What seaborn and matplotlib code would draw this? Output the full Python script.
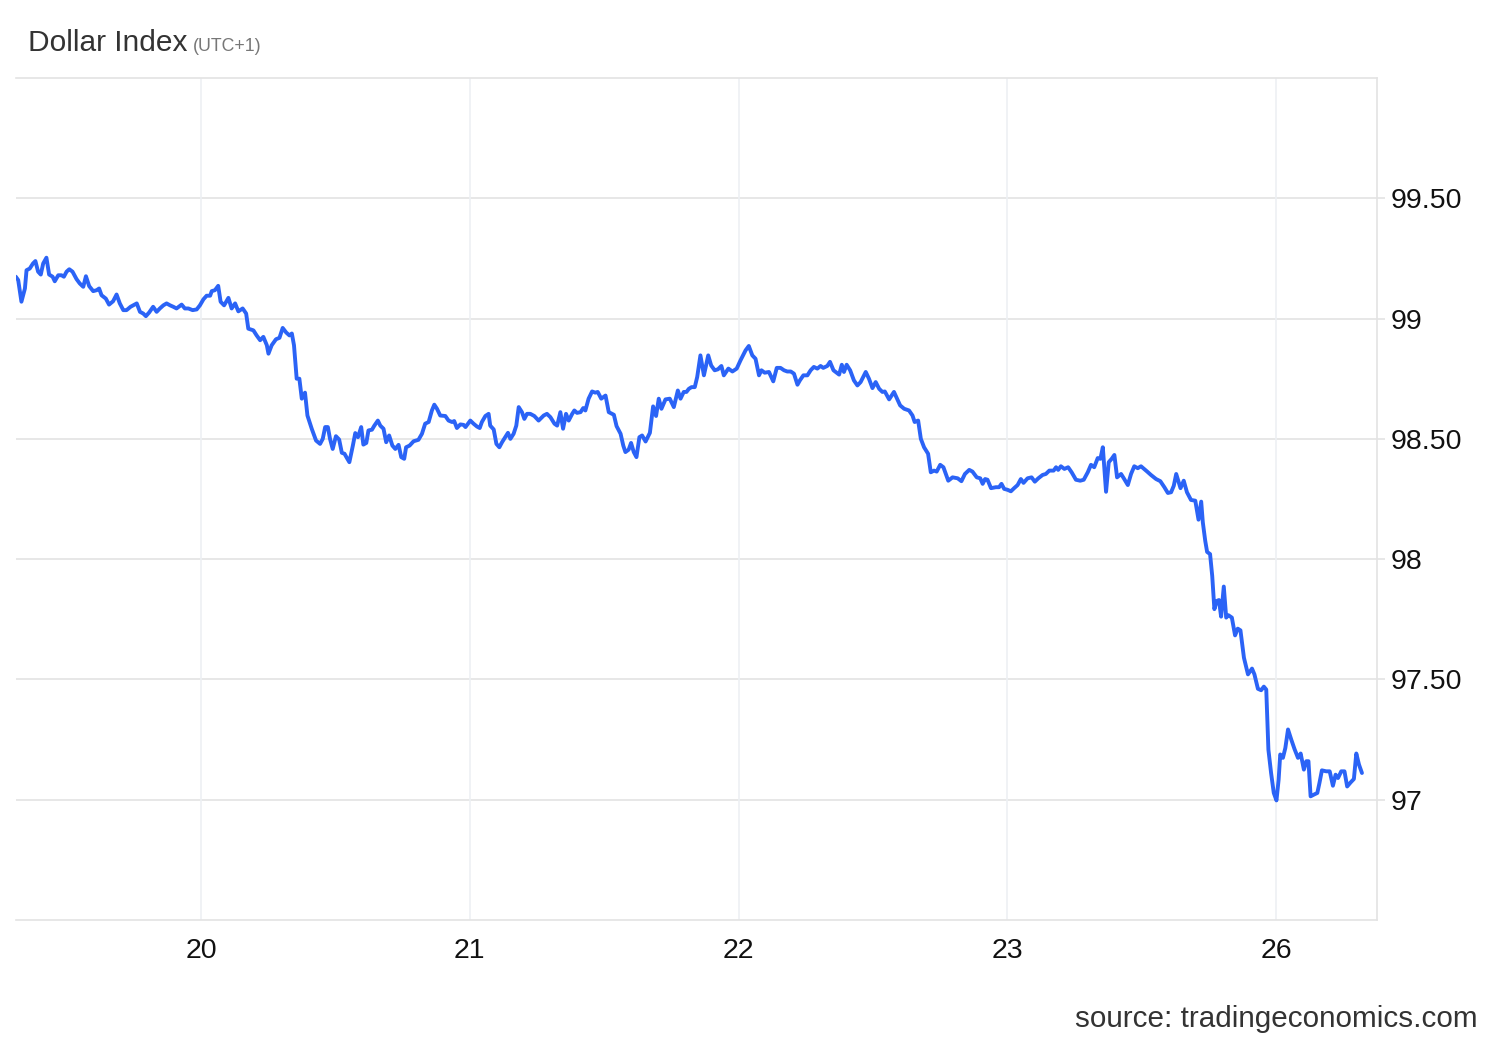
import numpy as np
import pandas as pd
import seaborn as sns
import matplotlib.pyplot as plt

# calendar day (fraction of day, UTC+1) and index level
day = [
    19.311, 19.320, 19.332, 19.345, 19.351, 19.363, 19.375, 19.384, 19.394, 19.404,
    19.413, 19.425, 19.435, 19.448, 19.456, 19.469, 19.481, 19.490, 19.500, 19.510,
    19.522, 19.537, 19.549, 19.562, 19.572, 19.584, 19.599, 19.612, 19.621, 19.630,
    19.646, 19.658, 19.673, 19.686, 19.698, 19.711, 19.723, 19.738, 19.748, 19.761,
    19.773, 19.785, 19.795, 19.807, 19.822, 19.835, 19.847, 19.860, 19.872, 19.885,
    19.897, 19.909, 19.928, 19.940, 19.953, 19.969, 19.984, 19.996, 20.009, 20.021,
    20.034, 20.040, 20.052, 20.064, 20.073, 20.086, 20.102, 20.114, 20.127, 20.139,
    20.155, 20.168, 20.176, 20.195, 20.207, 20.220, 20.232, 20.245, 20.251, 20.263,
    20.279, 20.292, 20.304, 20.317, 20.329, 20.338, 20.346, 20.356, 20.366, 20.375,
    20.387, 20.396, 20.412, 20.428, 20.443, 20.453, 20.462, 20.472, 20.480, 20.490,
    20.502, 20.514, 20.524, 20.534, 20.543, 20.552, 20.565, 20.574, 20.584, 20.596,
    20.604, 20.615, 20.623, 20.636, 20.645, 20.658, 20.667, 20.679, 20.689, 20.700,
    20.712, 20.723, 20.735, 20.745, 20.756, 20.763, 20.776, 20.791, 20.809, 20.822,
    20.834, 20.847, 20.859, 20.868, 20.878, 20.890, 20.909, 20.921, 20.934, 20.942,
    20.952, 20.965, 20.977, 20.984, 21.002, 21.014, 21.027, 21.037, 21.045, 21.058,
    21.070, 21.076, 21.089, 21.099, 21.110, 21.120, 21.132, 21.142, 21.151, 21.163,
    21.173, 21.182, 21.194, 21.203, 21.213, 21.225, 21.240, 21.256, 21.275, 21.287,
    21.300, 21.315, 21.325, 21.337, 21.347, 21.358, 21.368, 21.381, 21.389, 21.399,
    21.412, 21.422, 21.430, 21.442, 21.455, 21.467, 21.476, 21.489, 21.505, 21.517,
    21.536, 21.546, 21.561, 21.571, 21.579, 21.591, 21.600, 21.610, 21.620, 21.631,
    21.641, 21.654, 21.670, 21.682, 21.693, 21.703, 21.713, 21.728, 21.744, 21.759,
    21.774, 21.784, 21.796, 21.806, 21.815, 21.825, 21.837, 21.846, 21.858, 21.871,
    21.887, 21.898, 21.911, 21.923, 21.936, 21.945, 21.962, 21.977, 21.993, 22.007,
    22.026, 22.038, 22.051, 22.063, 22.076, 22.085, 22.097, 22.113, 22.129, 22.142,
    22.156, 22.169, 22.181, 22.194, 22.206, 22.219, 22.228, 22.241, 22.256, 22.268,
    22.280, 22.293, 22.305, 22.315, 22.330, 22.340, 22.353, 22.374, 22.384, 22.392,
    22.402, 22.415, 22.429, 22.442, 22.454, 22.473, 22.485, 22.498, 22.510, 22.523,
    22.535, 22.544, 22.560, 22.578, 22.601, 22.616, 22.634, 22.647, 22.655, 22.668,
    22.678, 22.690, 22.705, 22.715, 22.727, 22.737, 22.750, 22.762, 22.780, 22.796,
    22.815, 22.829, 22.842, 22.858, 22.870, 22.886, 22.899, 22.908, 22.917, 22.926,
    22.939, 22.957, 22.969, 22.978, 22.988, 23.001, 23.013, 23.025, 23.038, 23.050,
    23.060, 23.075, 23.090, 23.102, 23.115, 23.131, 23.143, 23.156, 23.172, 23.181,
    23.189, 23.199, 23.212, 23.226, 23.239, 23.255, 23.271, 23.284, 23.299, 23.311,
    23.323, 23.336, 23.346, 23.355, 23.367, 23.377, 23.388, 23.398, 23.408, 23.423,
    23.433, 23.448, 23.460, 23.472, 23.485, 23.497, 23.520, 23.534, 23.553, 23.569,
    23.584, 23.597, 23.609, 23.619, 23.628, 23.644, 23.656, 23.668, 23.683, 23.699,
    23.711, 23.721, 23.727, 23.736, 23.743, 23.754, 23.762, 23.770, 23.779, 23.787,
    23.795, 23.805, 23.814, 23.822, 23.835, 23.847, 23.857, 23.867, 23.880, 23.895,
    23.910, 23.919, 23.932, 23.944, 23.954, 23.963, 23.971, 23.981, 23.991,
    26.001, 26.009, 26.015, 26.025, 26.034, 26.044, 26.056, 26.068, 26.081, 26.091,
    26.103, 26.112, 26.120, 26.128, 26.140, 26.153, 26.161, 26.170, 26.186, 26.199,
    26.211, 26.221, 26.230, 26.242, 26.254, 26.264, 26.277, 26.289, 26.298, 26.308,
    26.319,
]
dxy = [
    99.174, 99.160, 99.070, 99.125, 99.201, 99.208, 99.229, 99.239, 99.195, 99.183,
    99.229, 99.253, 99.183, 99.174, 99.155, 99.180, 99.180, 99.174, 99.195, 99.205,
    99.195, 99.164, 99.146, 99.132, 99.176, 99.135, 99.114, 99.118, 99.125, 99.097,
    99.083, 99.058, 99.072, 99.100, 99.063, 99.035, 99.035, 99.049, 99.055, 99.063,
    99.028, 99.021, 99.010, 99.025, 99.049, 99.028, 99.042, 99.055, 99.063, 99.055,
    99.049, 99.042, 99.058, 99.042, 99.042, 99.035, 99.038, 99.055, 99.080, 99.095,
    99.095, 99.114, 99.118, 99.136, 99.070, 99.055, 99.086, 99.042, 99.063, 99.030,
    99.042, 99.021, 98.958, 98.951, 98.930, 98.910, 98.924, 98.889, 98.854, 98.889,
    98.914, 98.920, 98.961, 98.942, 98.930, 98.938, 98.889, 98.750, 98.750, 98.667,
    98.692, 98.597, 98.542, 98.493, 98.479, 98.500, 98.549, 98.549, 98.500, 98.458,
    98.511, 98.497, 98.442, 98.438, 98.420, 98.403, 98.472, 98.524, 98.507, 98.549,
    98.476, 98.483, 98.535, 98.538, 98.555, 98.576, 98.555, 98.542, 98.486, 98.514,
    98.472, 98.458, 98.475, 98.424, 98.417, 98.465, 98.472, 98.490, 98.496, 98.521,
    98.563, 98.570, 98.618, 98.642, 98.625, 98.597, 98.595, 98.576, 98.570, 98.574,
    98.545, 98.560, 98.558, 98.549, 98.576, 98.563, 98.551, 98.545, 98.570, 98.595,
    98.604, 98.555, 98.539, 98.479, 98.465, 98.486, 98.507, 98.525, 98.500, 98.521,
    98.555, 98.632, 98.611, 98.583, 98.604, 98.604, 98.595, 98.576, 98.597, 98.604,
    98.590, 98.563, 98.555, 98.611, 98.542, 98.604, 98.576, 98.604, 98.618, 98.608,
    98.611, 98.628, 98.618, 98.667, 98.697, 98.692, 98.695, 98.667, 98.680, 98.611,
    98.600, 98.553, 98.521, 98.472, 98.445, 98.455, 98.483, 98.445, 98.424, 98.507,
    98.514, 98.489, 98.525, 98.635, 98.595, 98.667, 98.625, 98.664, 98.667, 98.632,
    98.701, 98.667, 98.695, 98.695, 98.708, 98.715, 98.715, 98.757, 98.847, 98.764,
    98.847, 98.805, 98.785, 98.789, 98.803, 98.764, 98.792, 98.780, 98.792, 98.826,
    98.868, 98.886, 98.847, 98.833, 98.764, 98.785, 98.775, 98.778, 98.739, 98.795,
    98.795, 98.785, 98.780, 98.780, 98.771, 98.725, 98.743, 98.764, 98.764, 98.785,
    98.799, 98.792, 98.803, 98.795, 98.803, 98.820, 98.785, 98.767, 98.808, 98.778,
    98.808, 98.785, 98.743, 98.722, 98.736, 98.778, 98.750, 98.711, 98.736, 98.708,
    98.695, 98.697, 98.664, 98.695, 98.639, 98.625, 98.618, 98.597, 98.570, 98.576,
    98.500, 98.465, 98.438, 98.361, 98.368, 98.364, 98.392, 98.382, 98.326, 98.340,
    98.336, 98.324, 98.354, 98.371, 98.364, 98.340, 98.336, 98.313, 98.333, 98.330,
    98.295, 98.299, 98.299, 98.313, 98.292, 98.288, 98.282, 98.295, 98.308, 98.333,
    98.317, 98.336, 98.340, 98.322, 98.336, 98.350, 98.354, 98.368, 98.368, 98.382,
    98.371, 98.386, 98.375, 98.382, 98.361, 98.330, 98.326, 98.330, 98.361, 98.392,
    98.382, 98.420, 98.417, 98.465, 98.280, 98.403, 98.417, 98.433, 98.340, 98.354,
    98.336, 98.308, 98.354, 98.386, 98.378, 98.386, 98.364, 98.350, 98.333, 98.324,
    98.299, 98.275, 98.278, 98.305, 98.354, 98.295, 98.326, 98.278, 98.246, 98.243,
    98.164, 98.239, 98.153, 98.076, 98.030, 98.021, 97.930, 97.792, 97.826, 97.830,
    97.761, 97.886, 97.757, 97.767, 97.757, 97.683, 97.711, 97.704, 97.590, 97.521,
    97.545, 97.521, 97.461, 97.455, 97.470, 97.458, 97.208, 97.111, 97.028,
    96.997, 97.083, 97.188, 97.174, 97.215, 97.292, 97.250, 97.211, 97.174, 97.192,
    97.125, 97.160, 97.160, 97.014, 97.021, 97.028, 97.070, 97.122, 97.118, 97.118,
    97.058, 97.104, 97.090, 97.118, 97.118, 97.055, 97.072, 97.086, 97.192, 97.146,
    97.111,
]

tick_days = [20, 21, 22, 23, 26]
tick_labels = ['20', '21', '22', '23', '26']
y_ticks = [97, 97.5, 98, 98.5, 99, 99.5]
y_labels = ['97', '97.50', '98', '98.50', '99', '99.50']

def trading_pos(d):
    # weekend (24th, 25th) is skipped on the axis
    d = np.asarray(d, dtype=float)
    return np.where(d >= 26, d - 2, d)

df = pd.DataFrame({'pos': trading_pos(day), 'value': dxy})

sns.set_theme(style='white')
plt.rcParams['font.family'] = ['Liberation Sans', 'DejaVu Sans']

grid_h = '#e3e3e3'
grid_v = '#edf0f4'

fig = plt.figure(figsize=(15, 10.4), dpi=100)
ax = fig.add_axes([0.0107, 0.1154, 0.9073, 0.8096])

sns.lineplot(data=df, x='pos', y='value', ax=ax, color='#2b63f6',
             linewidth=2.8, estimator=None, sort=False)

ax.set_xlim(19.312, 24.375)
ax.set_ylim(96.5, 100.0)

ax.set_xticks(trading_pos(tick_days))
ax.set_xticklabels(tick_labels)
ax.set_yticks(y_ticks)
ax.set_yticklabels(y_labels)

ax.yaxis.tick_right()
ax.tick_params(axis='y', which='major', direction='out', length=6, width=1.2,
               color=grid_h, pad=4, labelsize=20.5, labelcolor='#111111')
ax.tick_params(axis='x', which='major', length=0, pad=13,
               labelsize=20.5, labelcolor='#111111')

ax.grid(False)
for yv in y_ticks:
    ax.axhline(yv, color=grid_h, linewidth=1.2, zorder=0)
for xv in trading_pos(tick_days):
    ax.axvline(xv, color=grid_v, linewidth=1.2, zorder=0)

for side in ['top', 'bottom', 'right']:
    ax.spines[side].set_color(grid_h)
    ax.spines[side].set_linewidth(1.2)
ax.spines['left'].set_visible(False)

ax.set_xlabel('')
ax.set_ylabel('')

fig.text(0.0187, 0.951, 'Dollar Index', fontsize=21.5, color='#333333',
         ha='left', va='baseline')
fig.text(0.1287, 0.951, '(UTC+1)', fontsize=12.8, color='#777777',
         ha='left', va='baseline')
fig.text(0.9853, 0.0065, 'source: tradingeconomics.com', fontsize=21.3,
         color='#333333', ha='right', va='bottom')

fig.savefig('out.png', dpi=100)
